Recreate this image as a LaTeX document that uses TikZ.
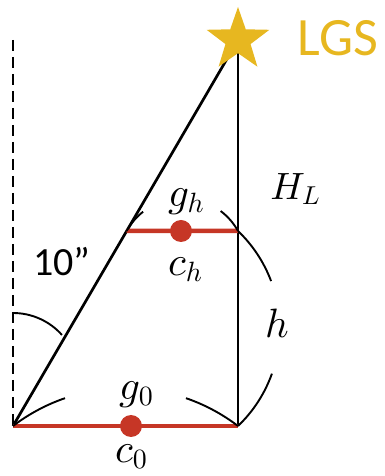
\documentclass[tikz,border=0pt]{standalone}
\usepackage{fontspec}
\usepackage{graphicx}
\setmainfont{Carlito}
\usetikzlibrary{shapes.geometric,calc}
\definecolor{lgsgold}{RGB}{231,183,32}
\definecolor{barred}{RGB}{198,54,38}
\newcommand{\lowlab}[2]{\scalebox{4.1}{$#1_{\scalebox{0.68}{$#2$}}$}}
\newcommand{\caplab}[2]{\scalebox{3.8}{$#1_{\scalebox{0.68}{$#2$}}$}}
\begin{document}
\begin{tikzpicture}[x=1pt,y=1pt,
  mainline/.style={line width=2.7pt,black},
  arcline/.style={line width=1.9pt,black},
  dashline/.style={line width=2.6pt,black,dash pattern=on 11pt off 6pt},
  redbar/.style={line width=4.5pt,barred},
  reddot/.style={circle,fill=barred,inner sep=0pt,minimum size=22pt},
  mathlabel/.style={inner sep=0pt},
  textlabel/.style={inner sep=0pt}]
\useasboundingbox (0,0) rectangle (385,476);
% key points
\coordinate (A) at (13,50);
\coordinate (B) at (238,50);
\coordinate (D) at (13,436);
\coordinate (Sc) at (238,436);
\coordinate (HR) at (238,245);
\coordinate (HL) at ($(A)!0.5052!(Sc)$);
\coordinate (angstart) at (13,163);
% dashed reference
\draw[dashline] (D) -- (A);
% triangle lines
\draw[mainline] (A) -- (Sc);
\draw[mainline] (B) -- (Sc);
% red bars
\draw[redbar] (A) -- (B);
\draw[redbar] (HL) -- (HR);
\node[reddot] (c0dot) at (131,50) {};
\node[reddot] (chdot) at (181,245) {};
% arcs
\draw[arcline] (angstart) arc[start angle=90,end angle=41.7,radius=65.6];
\draw[arcline] (A) arc[start angle=127.3,end angle=109,radius=185.5];
\draw[arcline] (B) arc[start angle=52.7,end angle=71,radius=185.5];
\draw[arcline] (HL) arc[start angle=151,end angle=128,radius=63.6];
\draw[arcline] (HR) arc[start angle=29,end angle=53,radius=63.6];
\draw[arcline] (HR) arc[start angle=46.3,end angle=20.6,radius=135];
\draw[arcline] (B) arc[start angle=-46.3,end angle=-19.6,radius=135];
% star
\node[star,star points=5,star point ratio=2.5,fill=lgsgold,inner sep=0pt,minimum size=66pt] (S) at (Sc) {};
% labels
\node[textlabel,text=lgsgold,font=\fontsize{54}{60}\selectfont] (lgs) at (338,438) {LGS};
\node[textlabel,font=\fontsize{40}{46}\selectfont] (ang) at (62,214) {10”};
\node[mathlabel] (gh) at (187,274) {\lowlab{g}{h}};
\node[mathlabel] (ch) at (186,206) {\lowlab{c}{h}};
\node[mathlabel] (HLlab) at (296,287) {\caplab{H}{L}};
\node[mathlabel] (hlab) at (277,153) {\scalebox{4.1}{$h$}};
\node[mathlabel] (g0) at (137,81) {\lowlab{g}{0}};
\node[mathlabel] (c0) at (132,19) {\lowlab{c}{0}};
\end{tikzpicture}
\end{document}
